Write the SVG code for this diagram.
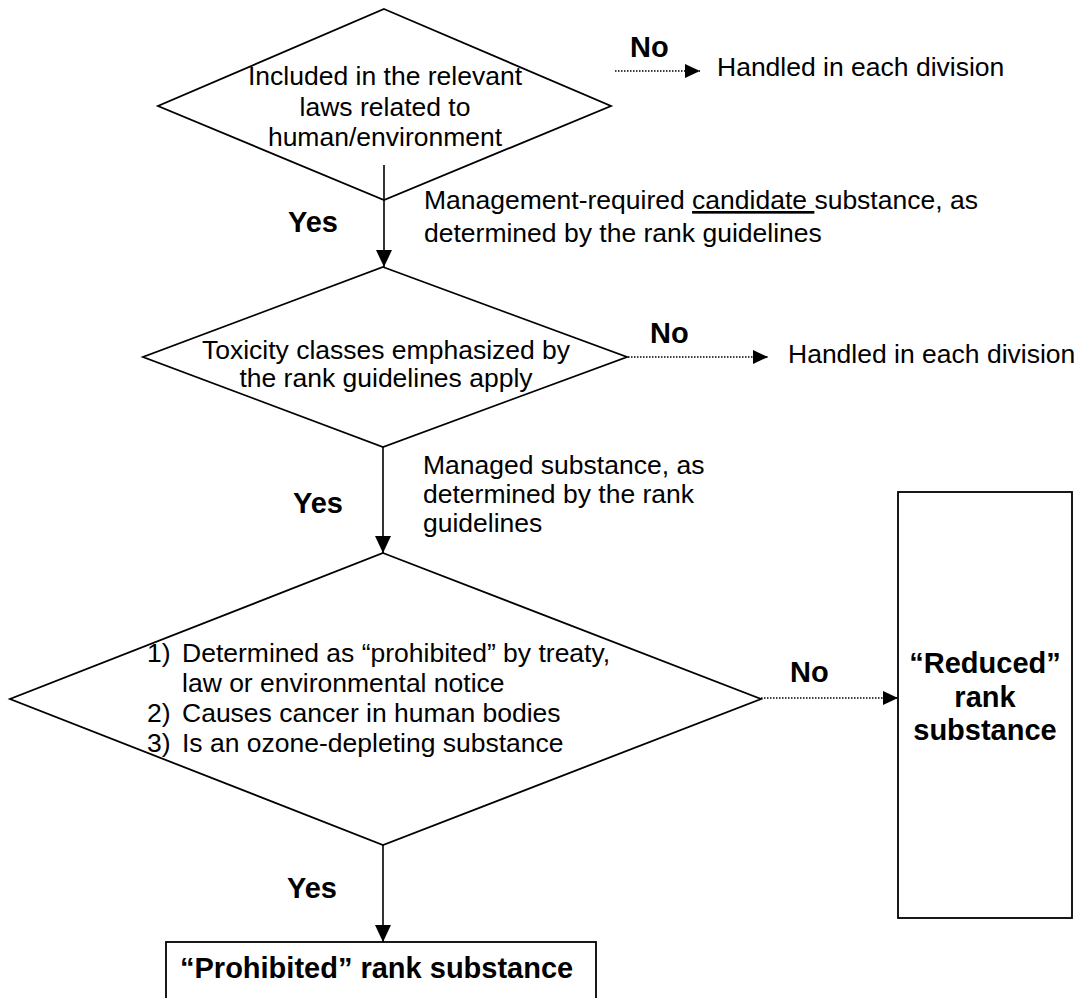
<svg xmlns="http://www.w3.org/2000/svg" width="1090" height="998" viewBox="0 0 1090 998">
<style>
.shape{fill:#fff;stroke:#000;stroke-width:1.8}
.t{font-family:"Liberation Sans",Arial,sans-serif;font-size:26.5px;fill:#000}
.b{font-family:"Liberation Sans",Arial,sans-serif;font-size:29px;font-weight:bold;fill:#000}
.bb{font-family:"Liberation Sans",Arial,sans-serif;font-size:29px;font-weight:bold;fill:#000}
.solid{stroke:#000;stroke-width:1.6;fill:none;marker-end:url(#ah)}
.dot{stroke:#000;stroke-width:1.5;fill:none;stroke-dasharray:1.5 1.5;marker-end:url(#ah2)}
</style>
<defs>
<marker id="ah" markerUnits="userSpaceOnUse" markerWidth="18" markerHeight="16" refX="17" refY="8" orient="auto">
<path d="M0,0 L17,8 L0,16 Z" fill="#000"/>
</marker>
<marker id="ah2" markerUnits="userSpaceOnUse" markerWidth="16" markerHeight="14" refX="15" refY="7" orient="auto">
<path d="M0,0 L15,7 L0,14 Z" fill="#000"/>
</marker>
</defs>
<rect width="1090" height="998" fill="#fff"/>

<g id="d1">
<polygon class="shape" points="384,9 611,106 384,200 158,106"/>
<text class="t" text-anchor="middle" x="385" y="85">Included in the relevant</text>
<text class="t" text-anchor="middle" x="385" y="115.5">laws related to</text>
<text class="t" text-anchor="middle" x="385" y="146">human/environment</text>
</g>

<g id="d2">
<polygon class="shape" points="383,267 627,357 383,447 143,357"/>
<text class="t" text-anchor="middle" x="386" y="359">Toxicity classes emphasized by</text>
<text class="t" text-anchor="middle" x="386" y="387">the rank guidelines apply</text>
</g>

<g id="d3">
<polygon class="shape" points="383,553 761,699 383,845 10,699"/>
<text class="t" x="147" y="662">1)</text>
<text class="t" x="182" y="662">Determined as “prohibited” by treaty,</text>
<text class="t" x="182" y="692">law or environmental notice</text>
<text class="t" x="147" y="722">2)</text>
<text class="t" x="182" y="722">Causes cancer in human bodies</text>
<text class="t" x="147" y="752">3)</text>
<text class="t" x="182" y="752">Is an ozone-depleting substance</text>
</g>

<g id="reduced">
<rect class="shape" x="898" y="492" width="174" height="426"/>
<text class="bb" text-anchor="middle" x="985" y="673">“Reduced”</text>
<text class="bb" text-anchor="middle" x="985" y="707">rank</text>
<text class="bb" text-anchor="middle" x="985" y="740">substance</text>
</g>

<g id="prohibited">
<rect class="shape" x="166" y="942" width="430" height="70"/>
<text class="bb" x="180" y="978">“Prohibited” rank substance</text>
</g>

<g id="handled1">
<text class="t" x="717" y="76">Handled in each division</text>
</g>
<g id="handled2">
<text class="t" x="788" y="363">Handled in each division</text>
</g>

<g id="connectors">
<line class="solid" x1="384" y1="165" x2="384" y2="267"/>
<line class="solid" x1="383" y1="447" x2="383" y2="553"/>
<line class="solid" x1="383" y1="845" x2="383" y2="942"/>
<line class="dot" x1="615" y1="71" x2="700" y2="71"/>
<line class="dot" x1="628" y1="357" x2="768" y2="357"/>
<line class="dot" x1="761" y1="698" x2="898" y2="698"/>
<text class="b" x="630" y="57">No</text>
<text class="b" x="650" y="343">No</text>
<text class="b" x="790" y="682">No</text>
<text class="b" x="288" y="232">Yes</text>
<text class="b" x="293" y="513">Yes</text>
<text class="b" x="287" y="898">Yes</text>
<text class="t" x="424" y="209">Management-required <tspan text-decoration="underline">candidate </tspan>substance, as</text>
<text class="t" x="424" y="242">determined by the rank guidelines</text>
<text class="t" x="423" y="474">Managed substance, as</text>
<text class="t" x="423" y="503">determined by the rank</text>
<text class="t" x="423" y="532">guidelines</text>
</g>
</svg>
